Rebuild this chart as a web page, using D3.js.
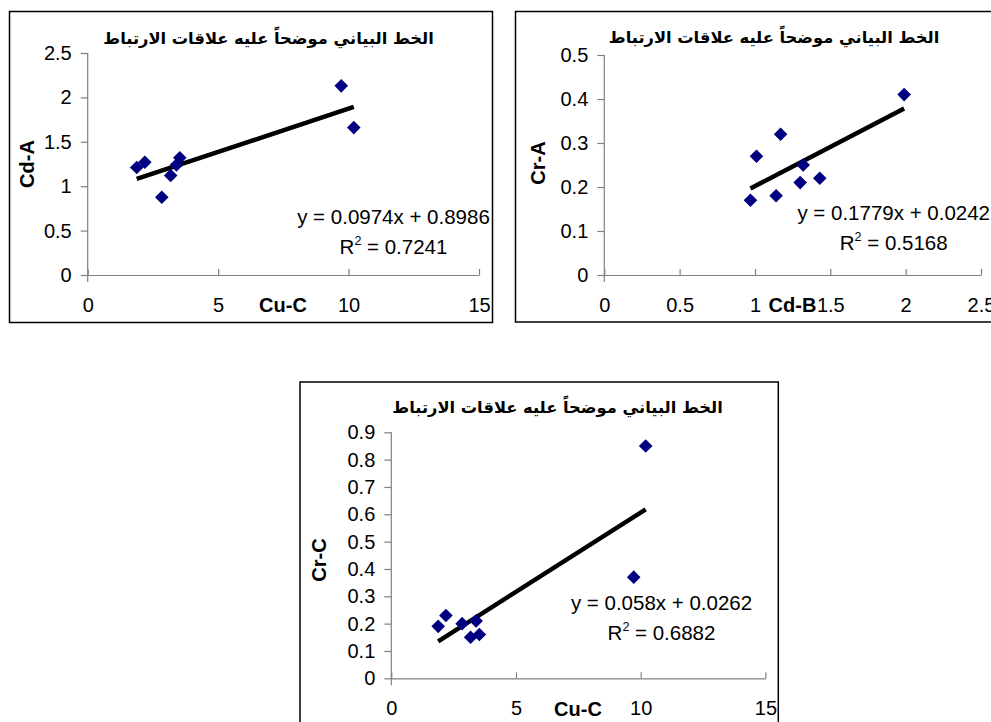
<!DOCTYPE html>
<html>
<head>
<meta charset="utf-8">
<script src="https://cdn.jsdelivr.net/npm/d3@7"></script>
<style>
  body { margin: 0; background: #fff; }
  text { font-family: "Liberation Sans", Arial, sans-serif; }
</style>
</head>
<body>
<script>
// data
var cuC = [1.88, 2.19, 2.84, 3.18, 3.4, 3.53, 9.72, 10.2];
var cdA = [1.21, 1.27, 0.875, 1.12, 1.24, 1.32, 2.13, 1.66];
var cdB = [0.97, 1.01, 1.14, 1.17, 1.30, 1.32, 1.43, 1.99];
var crA = [0.17, 0.27, 0.18, 0.32, 0.21, 0.25, 0.22, 0.41];
var crC = [0.19, 0.23, 0.20, 0.15, 0.21, 0.16, 0.37, 0.85];

var ticksCu = [0, 5, 10, 15];
var ticksCdB = [0, 0.5, 1, 1.5, 2, 2.5];
var ticksCdA = [0, 0.5, 1, 1.5, 2, 2.5];
var ticksCrA = [0, 0.1, 0.2, 0.3, 0.4, 0.5];
var ticksCrC = [0, 0.1, 0.2, 0.3, 0.4, 0.5, 0.6, 0.7, 0.8, 0.9];

var title = "الخط البياني موضحاً عليه علاقات الارتباط";

var svg = d3.select("body").append("svg")
  .attr("width", 991)
  .attr("height", 722);

function drawChart(c) {
  // frame
  svg.append("rect")
    .attr("x", c.frame[0]).attr("y", c.frame[1])
    .attr("width", c.frame[2]).attr("height", c.frame[3])
    .attr("fill", "#fff").attr("stroke", "#000").attr("stroke-width", 1.5);

  var x = d3.scaleLinear().domain(c.xDomain).range(c.xRange);
  var y = d3.scaleLinear().domain(c.yDomain).range(c.yRange);

  var g = svg.append("g");

  // y axis
  var ya = g.append("g")
    .attr("transform", "translate(" + c.xRange[0] + ",0)")
    .call(d3.axisLeft(y).tickValues(c.yTicks).tickSize(7).tickSizeOuter(0).tickPadding(9).tickFormat(d => d));
  ya.select(".domain").attr("d", "M0," + (c.yRange[0] + 7) + "V" + c.yRange[1]);

  // x axis
  var xa = g.append("g")
    .attr("transform", "translate(0," + c.yRange[0] + ")")
    .call(d3.axisBottom(x).tickValues(c.xTicks).tickSize(-6).tickSizeOuter(0).tickPadding(22.5).tickFormat(d => d));

  g.selectAll(".domain, .tick line").attr("stroke", "#808080").attr("stroke-width", 1.2);
  g.selectAll(".tick text").attr("font-size", 20).attr("fill", "#000")
    .style("font-family", "'Liberation Sans', Arial, sans-serif");

  // axis titles
  g.append("text")
    .attr("x", c.xTitlePos[0]).attr("y", c.xTitlePos[1])
    .attr("text-anchor", "middle")
    .attr("font-size", 20).attr("font-weight", "bold")
    .text(c.xTitle);

  g.append("text")
    .attr("transform", "translate(" + c.yTitlePos[0] + "," + c.yTitlePos[1] + ") rotate(-90)")
    .attr("text-anchor", "middle")
    .attr("dy", "0.35em")
    .attr("font-size", 20).attr("font-weight", "bold")
    .text(c.yTitle);

  // title
  g.append("text")
    .attr("x", c.titlePos[0]).attr("y", c.titlePos[1])
    .attr("text-anchor", "middle")
    .attr("direction", "rtl")
    .attr("font-size", 16.3).attr("font-weight", "bold")
    .style("font-family", "'DejaVu Sans', sans-serif")
    .text(title);

  // trend line from the fitted equation
  var xmin = d3.min(c.xs), xmax = d3.max(c.xs);
  g.append("line")
    .attr("x1", x(xmin)).attr("y1", y(c.slope * xmin + c.icpt))
    .attr("x2", x(xmax)).attr("y2", y(c.slope * xmax + c.icpt))
    .attr("stroke", "#000").attr("stroke-width", 4.5);

  // points
  var pts = c.xs.map((v, i) => ({ x: v, y: c.ys[i] }));
  g.selectAll("path.pt")
    .data(pts)
    .enter().append("path")
    .attr("class", "pt")
    .attr("d", "M0,-6.8L6.8,0L0,6.8L-6.8,0Z")
    .attr("fill", "#000080")
    .attr("transform", d => "translate(" + x(d.x) + "," + y(d.y) + ")");

  // equation
  var eq = g.append("text")
    .attr("x", c.eqPos[0]).attr("y", c.eqPos[1])
    .attr("text-anchor", "middle")
    .attr("font-size", 20.5)
    .text("y = " + c.slopeText + "x + " + c.icptText);

  var r2 = g.append("text")
    .attr("x", c.eqPos[0]).attr("y", c.eqPos[1] + 30)
    .attr("text-anchor", "middle")
    .attr("font-size", 20.5);
  r2.append("tspan").text("R");
  r2.append("tspan").attr("font-size", 12.5).attr("dy", -9).text("2");
  r2.append("tspan").attr("dy", 9).text(" = " + c.r2Text);
}

drawChart({
  frame: [9.5, 11.5, 483, 311],
  xDomain: [0, 15], xRange: [87.7, 479],
  yDomain: [0, 2.5], yRange: [275, 53],
  xTicks: ticksCu, yTicks: ticksCdA,
  xs: cuC, ys: cdA,
  slope: 0.0974, icpt: 0.8986, slopeText: "0.0974", icptText: "0.8986", r2Text: "0.7241",
  xTitle: "Cu-C", yTitle: "Cd-A",
  xTitlePos: [283, 312], yTitlePos: [26.5, 164],
  titlePos: [268.5, 44],
  eqPos: [393.5, 224]
});

drawChart({
  frame: [515.5, 11.5, 490, 310.5],
  xDomain: [0, 2.5], xRange: [604.3, 981],
  yDomain: [0, 0.5], yRange: [275, 55],
  xTicks: ticksCdB, yTicks: ticksCrA,
  xs: cdB, ys: crA,
  slope: 0.1779, icpt: 0.0242, slopeText: "0.1779", icptText: "0.0242", r2Text: "0.5168",
  xTitle: "Cd-B", yTitle: "Cr-A",
  xTitlePos: [792.5, 312], yTitlePos: [538, 163],
  titlePos: [774, 43],
  eqPos: [893.7, 220]
});

drawChart({
  frame: [300, 382, 478.3, 360],
  xDomain: [0, 15], xRange: [391.3, 765.4],
  yDomain: [0, 0.9], yRange: [678.3, 432.3],
  xTicks: ticksCu, yTicks: ticksCrC,
  xs: cuC, ys: crC,
  slope: 0.058, icpt: 0.0262, slopeText: "0.058", icptText: "0.0262", r2Text: "0.6882",
  xTitle: "Cu-C", yTitle: "Cr-C",
  xTitlePos: [578, 716], yTitlePos: [319, 560],
  titlePos: [557.5, 413],
  eqPos: [661.5, 610]
});
</script>
</body>
</html>
